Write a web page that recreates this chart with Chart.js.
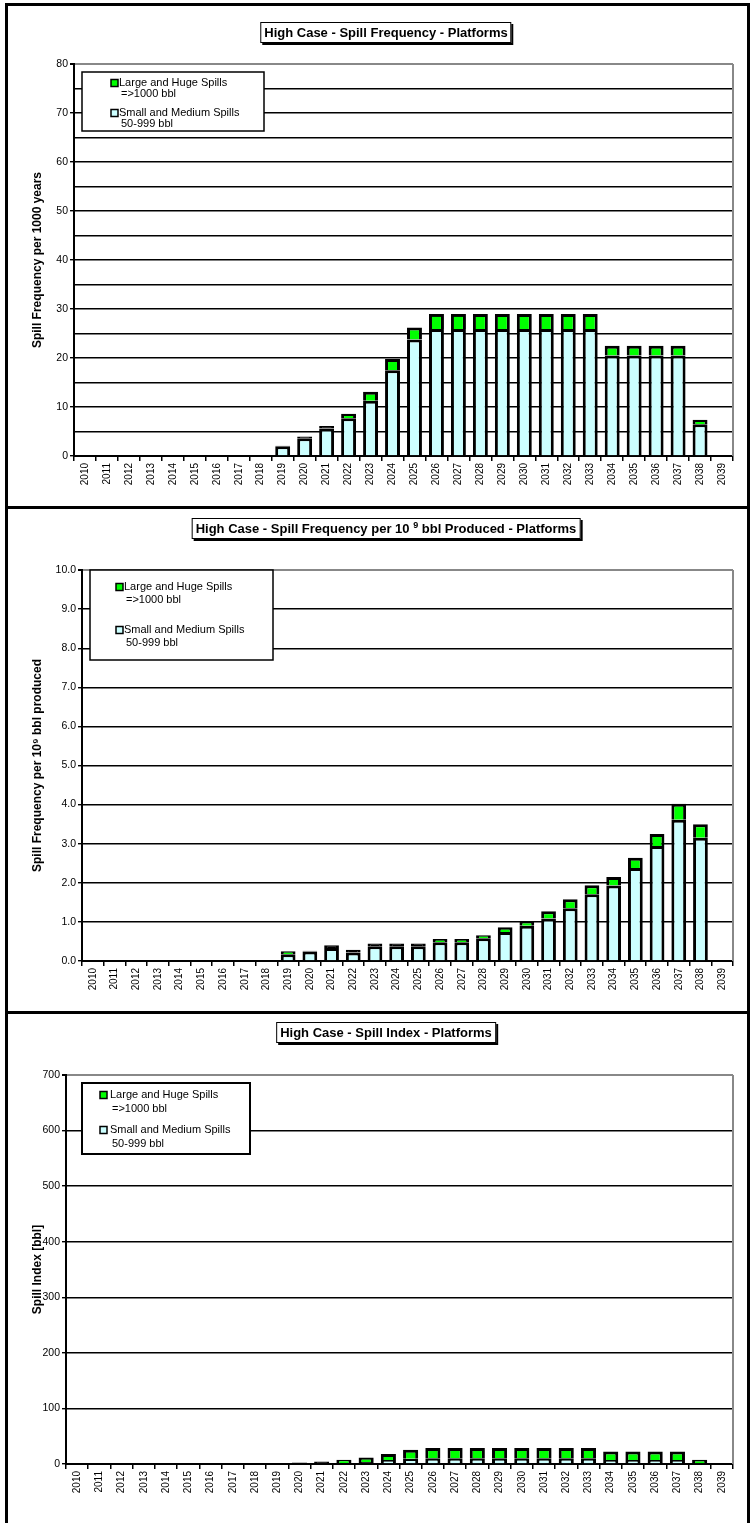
<!DOCTYPE html>
<html>
<head>
<meta charset="utf-8">
<script src="https://cdn.jsdelivr.net/npm/chart.js@4.4.0/dist/chart.umd.min.js"></script>
<style>
    body { margin: 0; background: #fff; width: 753px; height: 1523px; position: relative; overflow: hidden; font-family: "Liberation Sans", Arial, sans-serif; }
    canvas { position: absolute; left: 0; }
    .line { position: absolute; background: #000; }
    .title { position: absolute; left: 386px; transform: translateX(-50%); background: #fff; border: 1.5px solid #000; box-shadow: 2px 2px 0 #000;
        font-weight: bold; font-size: 13px; line-height: 15px; padding: 2px 3px; white-space: nowrap; color: #000; }
    .title sup { font-size: 9px; line-height: 0; vertical-align: 5px; }
</style>
</head>
<body>
<canvas id="freqChart" width="753" height="507" style="top:0"></canvas>
<canvas id="prodChart" width="753" height="505" style="top:507px"></canvas>
<canvas id="indexChart" width="753" height="511" style="top:1012px"></canvas>

<div class="line" style="left:5px;top:3px;width:3px;height:1520px"></div>
<div class="line" style="left:5px;top:3px;width:745px;height:3px"></div>
<div class="line" style="left:747px;top:3px;width:3px;height:1520px"></div>
<div class="line" style="left:5px;top:506px;width:745px;height:3px"></div>
<div class="line" style="left:5px;top:1011px;width:745px;height:3px"></div>

<div class="title" style="top:22px">High Case - Spill Frequency - Platforms</div>
<div class="title" style="top:518px">High Case - Spill Frequency per 10 <sup>9</sup> bbl Produced - Platforms</div>
<div class="title" style="top:1022px">High Case - Spill Index - Platforms</div>

<script>
const years = ['2010', '2011', '2012', '2013', '2014', '2015', '2016', '2017', '2018', '2019',
    '2020', '2021', '2022', '2023', '2024', '2025', '2026', '2027', '2028', '2029',
    '2030', '2031', '2032', '2033', '2034', '2035', '2036', '2037', '2038', '2039'];

const legendLarge = ['Large and Huge Spills', '=>1000 bbl'];
const legendSmall = ['Small and Medium Spills', '50-999 bbl'];

// spill frequency per 1000 years
const freqSmall = [0, 0, 0, 0, 0, 0, 0, 0, 0, 2.0,
    3.6, 5.6, 7.7, 11.3, 17.5, 23.8, 25.9, 25.9, 25.9, 25.9,
    25.9, 25.9, 25.9, 25.9, 20.5, 20.5, 20.5, 20.5, 6.5, 0];
const freqLarge = [0, 0, 0, 0, 0, 0, 0, 0, 0, 0.1,
    0.4, 0.5, 0.9, 1.8, 2.3, 2.4, 3.1, 3.1, 3.1, 3.1,
    3.1, 3.1, 3.1, 3.1, 2.0, 2.0, 2.0, 2.0, 0.9, 0];

// spill frequency per 10^9 bbl produced
const prodSmall = [0, 0, 0, 0, 0, 0, 0, 0, 0, 0.17,
    0.24, 0.33, 0.22, 0.38, 0.38, 0.38, 0.48, 0.48, 0.58, 0.74,
    0.90, 1.09, 1.35, 1.71, 1.93, 2.38, 2.94, 3.61, 3.15, 0];
const prodLarge = [0, 0, 0, 0, 0, 0, 0, 0, 0, 0.08,
    0.02, 0.07, 0.07, 0.07, 0.07, 0.07, 0.08, 0.08, 0.08, 0.12,
    0.12, 0.18, 0.23, 0.23, 0.22, 0.26, 0.31, 0.41, 0.35, 0];

// spill index [bbl]
const indexSmall = [0, 0, 0, 0, 0, 0, 0, 0, 0, 0,
    1, 1.5, 2, 3.5, 7, 9.5, 10.5, 10.5, 10.5, 10.5,
    10.5, 10.5, 10.5, 10.5, 7, 7, 7, 7, 1.5, 0];
const indexLarge = [0, 0, 0, 0, 0, 0, 0, 0, 0, 0,
    1.5, 3, 5.5, 8, 11, 16, 18.5, 18.5, 18.5, 18.5,
    18.5, 18.5, 18.5, 18.5, 15.5, 15.5, 15.5, 15.5, 6, 0];

Chart.defaults.font.family = '"Liberation Sans", Arial, sans-serif';
Chart.defaults.color = '#000';

// very thin segments are all outline in the original, so fill them black
const segmentFill = (color) => (c) => {
    const y = c.chart.scales.y;
    if (!y || c.raw == null) return color;
    const h = y.getPixelForValue(0) - y.getPixelForValue(c.raw);
    return h > 0 && h < 3 ? '#000' : color;
}

// grey plot frame on the right and the boxed two-line legend
const boxLegend = {
    id: 'boxLegend',
    afterDraw(chart, args, opts) {
        const {ctx, chartArea} = chart;
        ctx.save();
        ctx.strokeStyle = '#888';
        ctx.lineWidth = 2;
        ctx.beginPath();
        ctx.moveTo(chartArea.right, chartArea.top);
        ctx.lineTo(chartArea.right, chartArea.bottom);
        ctx.stroke();

        ctx.fillStyle = '#fff';
        ctx.fillRect(opts.left, opts.top, opts.width, opts.height);
        ctx.strokeStyle = '#000';
        ctx.lineWidth = opts.borderWidth;
        ctx.strokeRect(opts.left, opts.top, opts.width, opts.height);

        const items = chart.data.datasets.slice().reverse();
        ctx.font = '11px "Liberation Sans", Arial, sans-serif';
        ctx.textBaseline = 'middle';
        ctx.textAlign = 'left';
        items.forEach((ds, i) => {
            const y = opts.rowY[i];
            ctx.fillStyle = ds.legendColor;
            ctx.fillRect(opts.markerX, y - 3.5, 7, 7);
            ctx.lineWidth = 1.5;
            ctx.strokeStyle = '#000';
            ctx.strokeRect(opts.markerX, y - 3.5, 7, 7);
            ctx.fillStyle = '#000';
            ds.label.forEach((line, j) => {
                ctx.fillText(line, opts.textX + (j ? 2 : 0), y + j * opts.lineGap);
            });
        });
        ctx.restore();
    }
};

const makeChart = (id, small, large, yAxis, layout, legend) => {
    const ctx = document.getElementById(id).getContext('2d');
    return new Chart(ctx, {
        type: 'bar',
        data: {
            labels: years,
            datasets: [{
                label: legendSmall,
                data: small,
                legendColor: '#ccffff',
                backgroundColor: segmentFill('#ccffff'),
                borderColor: '#000',
                borderWidth: 3,
            }, {
                label: legendLarge,
                data: large,
                legendColor: '#00ff00',
                backgroundColor: segmentFill('#00ff00'),
                borderColor: '#000',
                borderWidth: 3,
            }],
        },
        options: {
            responsive: false,
            animation: false,
            devicePixelRatio: 1,
            layout: {padding: layout.padding},
            datasets: {bar: {barPercentage: 0.68, categoryPercentage: 1}},
            plugins: {
                legend: {display: false},
                tooltip: {enabled: false},
                boxLegend: legend,
            },
            scales: {
                x: {
                    stacked: true,
                    afterFit: (scale) => { scale.height = 40 },
                    grid: {drawOnChartArea: false, color: '#000', lineWidth: 1.5, tickLength: 5},
                    border: {color: '#000', width: 2},
                    ticks: {minRotation: 90, maxRotation: 90, autoSkip: false, padding: 2, font: {size: 10}, color: '#000'},
                },
                y: {
                    stacked: true,
                    min: 0,
                    max: yAxis.max,
                    afterFit: (scale) => { scale.width = layout.axisWidth },
                    grid: {
                        color: (c) => c.tick && c.tick.value === yAxis.max ? '#888' : '#000',
                        lineWidth: (c) => c.tick && c.tick.value === yAxis.max ? 2 : 1.4,
                        tickColor: (c) => c.tick && Math.abs(c.tick.value / yAxis.labelStep - Math.round(c.tick.value / yAxis.labelStep)) < 1e-6 ? '#000' : 'rgba(0,0,0,0)',
                        tickLength: 4,
                    },
                    border: {color: '#000', width: 2},
                    ticks: {
                        stepSize: yAxis.step,
                        padding: 2,
                        font: {size: 10.5},
                        color: '#000',
                        callback: yAxis.format,
                    },
                    title: {
                        display: true,
                        text: yAxis.title,
                        font: {size: 12, weight: 'bold'},
                        color: '#000',
                        padding: 0,
                    },
                },
            },
        },
        plugins: [boxLegend],
    });
}

makeChart('freqChart', freqSmall, freqLarge,
    {max: 80, step: 5, labelStep: 10, title: 'Spill Frequency per 1000 years',
        format: (v) => v % 10 === 0 ? v : ''},
    {padding: {left: 30, top: 64, right: 20, bottom: 11}, axisWidth: 44},
    {left: 82, top: 72, width: 182, height: 59, borderWidth: 1.5, markerX: 111, textX: 119, rowY: [83, 113], lineGap: 11});

makeChart('prodChart', prodSmall, prodLarge,
    {max: 10, step: 1, labelStep: 1, title: 'Spill Frequency per 10\u2079 bbl produced',
        format: (v) => v.toFixed(1)},
    {padding: {left: 30, top: 63, right: 20, bottom: 11}, axisWidth: 52},
    {left: 90, top: 63, width: 183, height: 90, borderWidth: 1.5, markerX: 116, textX: 124, rowY: [80, 123], lineGap: 13});

makeChart('indexChart', indexSmall, indexLarge,
    {max: 700, step: 100, labelStep: 100, title: 'Spill Index [bbl]',
        format: (v) => v},
    {padding: {left: 30, top: 63, right: 20, bottom: 19}, axisWidth: 36},
    {left: 82, top: 71, width: 168, height: 71, borderWidth: 2, markerX: 100, textX: 110, rowY: [83, 118], lineGap: 14});
</script>
</body>
</html>
